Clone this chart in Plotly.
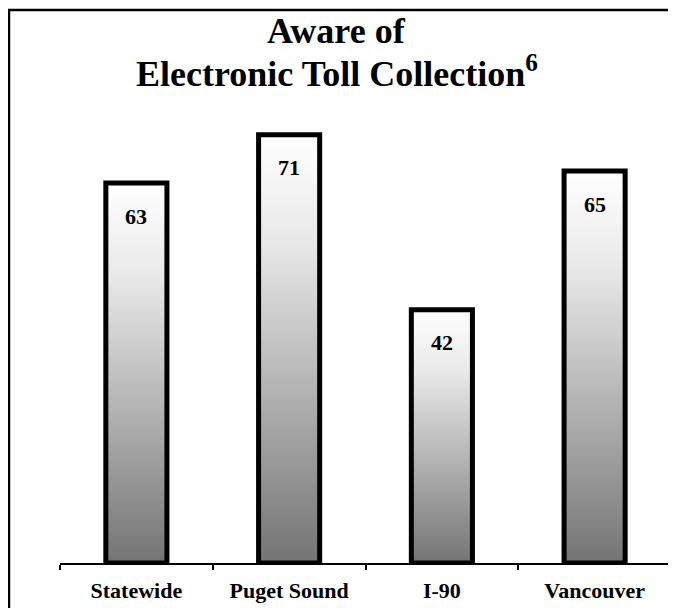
import plotly.graph_objects as go

# Survey share aware of electronic toll collection, by region (%)
regions = ["Statewide", "Puget Sound", "I-90", "Vancouver"]
aware_pct = [63, 71, 42, 65]
title_lines = ["Aware of", "Electronic Toll Collection<sup>6</sup>"]

BAR_HALF = 0.2
FONT = "Liberation Serif, Times New Roman, serif"
gradient = [[0.0, "#747474"], [0.45, "#bababa"], [0.75, "#e8e8e8"], [1.0, "#ffffff"]]

fig = go.Figure()

# bars as filled polygons so they can take a vertical gradient
for i, v in enumerate(aware_pct):
    x0, x1 = i - BAR_HALF, i + BAR_HALF
    fig.add_trace(go.Scatter(
        x=[x0, x1, x1, x0, x0],
        y=[0, 0, v, v, 0],
        mode="lines",
        fill="toself",
        fillgradient=dict(type="vertical", colorscale=gradient),
        line=dict(color="black", width=5),
        hoverinfo="skip",
        showlegend=False,
    ))
    fig.add_annotation(
        x=i, y=v, yshift=-33, text=str(v), showarrow=False,
        font=dict(family=FONT, size=22, color="black", weight="bold"),
    )

# two-line title, placed by hand
for text, ypos in zip(title_lines, [1.1014, 1.0166]):
    fig.add_annotation(
        xref="paper", yref="paper", x=0.453, y=ypos,
        xanchor="center", yanchor="middle",
        text=text, showarrow=False,
        font=dict(family=FONT, size=36, color="black", weight="bold"),
    )

# frame on the left and top edges of the picture
fig.add_shape(
    type="path", xref="paper", yref="paper",
    path="M -0.0835 -0.2 L -0.0835 1.1449 L 1.2 1.1449",
    line=dict(color="black", width=2.5),
)

fig.update_layout(
    width=676,
    height=608,
    margin=dict(l=52, r=13, t=72, b=53),
    paper_bgcolor="white",
    plot_bgcolor="white",
    showlegend=False,
    xaxis=dict(
        range=[-0.5, 3.5],
        tickmode="array",
        tickvals=list(range(len(regions))),
        ticktext=regions,
        ticks="outside",
        ticklen=7,
        tickcolor="rgba(0,0,0,0)",
        showgrid=False,
        zeroline=False,
        showline=True,
        linecolor="black",
        linewidth=1.5,
        tickfont=dict(family=FONT, size=22, color="black", weight="bold"),
        minor=dict(
            tickmode="array",
            tickvals=[k - 0.5 for k in range(len(regions) + 1)],
            ticks="outside",
            ticklen=5,
            tickwidth=1.5,
            tickcolor="black",
        ),
    ),
    yaxis=dict(
        range=[0, 80.1],
        visible=False,
        showgrid=False,
        zeroline=False,
    ),
)

fig.write_html("out.html")
